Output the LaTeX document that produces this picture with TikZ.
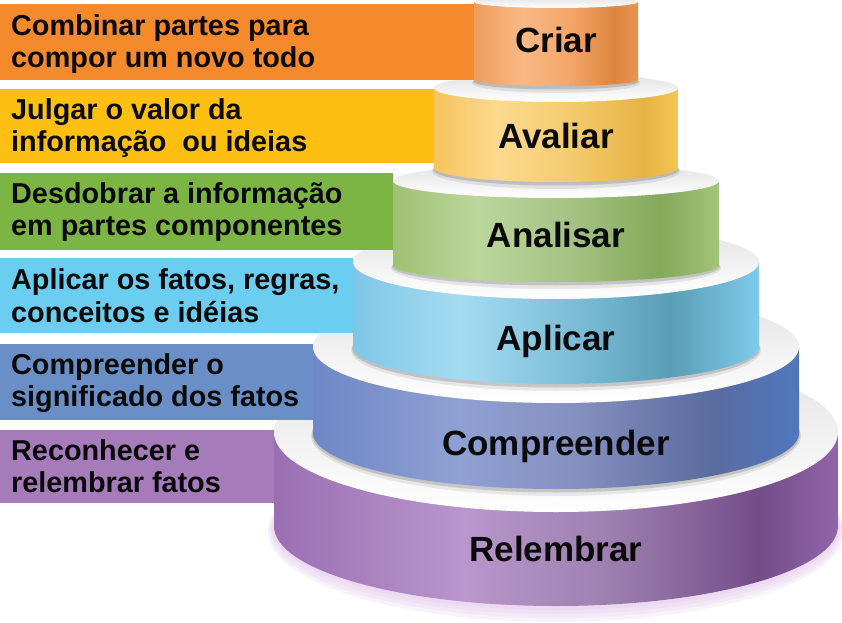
\documentclass[tikz,border=0pt]{standalone}
\usepackage{fontspec}
\setmainfont{Liberation Sans}
\definecolor{txtc}{HTML}{0A0A0A}
\definecolor{faceg}{HTML}{E2E2E2}
\definecolor{glowc}{HTML}{E3C8EA}
\definecolor{rOrange}{HTML}{F48A2B}
\definecolor{rYellow}{HTML}{FCBF12}
\definecolor{rGreen}{HTML}{7CB543}
\definecolor{rLblue}{HTML}{6BCDEF}
\definecolor{rBlue}{HTML}{6A8FC7}
\definecolor{rPurple}{HTML}{A57BBA}
% Criar
\definecolor{cA0}{HTML}{EE9D5B}\definecolor{cA1}{HTML}{FAB985}\definecolor{cA2}{HTML}{F3A468}\definecolor{cA3}{HTML}{DC853F}\definecolor{cA4}{HTML}{E99550}
% Avaliar
\definecolor{cB0}{HTML}{F5C45E}\definecolor{cB1}{HTML}{FCD98E}\definecolor{cB2}{HTML}{F5CC72}\definecolor{cB3}{HTML}{E6B444}\definecolor{cB4}{HTML}{F2C555}
% Analisar
\definecolor{cC0}{HTML}{9EC173}\definecolor{cC1}{HTML}{BBD69C}\definecolor{cC2}{HTML}{A5C384}\definecolor{cC3}{HTML}{84A95A}\definecolor{cC4}{HTML}{A3C47A}
% Aplicar
\definecolor{cD0}{HTML}{7FC6E6}\definecolor{cD1}{HTML}{A5DCF2}\definecolor{cD2}{HTML}{7DBDD8}\definecolor{cD3}{HTML}{5A9DB6}\definecolor{cD4}{HTML}{7ECBEA}
% Compreender
\definecolor{cE0}{HTML}{6F87C6}\definecolor{cE1}{HTML}{8FA0D3}\definecolor{cE2}{HTML}{8590C0}\definecolor{cE3}{HTML}{5A6B9E}\definecolor{cE4}{HTML}{5077BF}
% Relembrar
\definecolor{cF0}{HTML}{9A6FB2}\definecolor{cF1}{HTML}{B996CC}\definecolor{cF2}{HTML}{9D7FAF}\definecolor{cF3}{HTML}{744C88}\definecolor{cF4}{HTML}{9066AA}
\pgfdeclarehorizontalshading{shCri}{100bp}{color(0bp)=(cA0); color(25bp)=(cA0); color(40bp)=(cA1); color(55bp)=(cA2); color(67.5bp)=(cA3); color(75bp)=(cA4); color(100bp)=(cA4)}
\pgfdeclarehorizontalshading{shAva}{100bp}{color(0bp)=(cB0); color(25bp)=(cB0); color(38bp)=(cB1); color(52bp)=(cB2); color(68bp)=(cB3); color(75bp)=(cB4); color(100bp)=(cB4)}
\pgfdeclarehorizontalshading{shAna}{100bp}{color(0bp)=(cC0); color(25bp)=(cC0); color(38bp)=(cC1); color(52bp)=(cC2); color(66bp)=(cC3); color(75bp)=(cC4); color(100bp)=(cC4)}
\pgfdeclarehorizontalshading{shApl}{100bp}{color(0bp)=(cD0); color(25bp)=(cD0); color(38bp)=(cD1); color(52bp)=(cD2); color(64bp)=(cD3); color(75bp)=(cD4); color(100bp)=(cD4)}
\pgfdeclarehorizontalshading{shComp}{100bp}{color(0bp)=(cE0); color(25bp)=(cE0); color(40bp)=(cE1); color(52bp)=(cE2); color(66bp)=(cE3); color(75bp)=(cE4); color(100bp)=(cE4)}
\pgfdeclarehorizontalshading{shRel}{100bp}{color(0bp)=(cF0); color(25bp)=(cF0); color(42bp)=(cF1); color(55bp)=(cF2); color(68bp)=(cF3); color(75bp)=(cF4); color(100bp)=(cF4)}
\newcommand\drawtier[6]{%
  \pgfmathsetmacro\tL{556-#1}%
  \pgfmathsetmacro\tR{556+#1}%
  \pgfmathsetmacro\tT{622-#2}%
  \pgfmathsetmacro\tB{622-#2-#4}%
  \ifnum#6=1
    \fill[shadowA] (556,\tB-3) ellipse [x radius=#1+2, y radius=#3+4];
    \fill[shadowB] (556,\tB-1.5) ellipse [x radius=#1+1, y radius=#3+2];
  \fi
  \shade[shading=#5] (\tL,\tT) -- (\tL,\tB) arc[start angle=180,end angle=360,x radius=#1,y radius=#3] -- (\tR,\tT) -- cycle;
  \shade[face] (556,\tT) ellipse [x radius=#1, y radius=#3];
}
\begin{document}
\begin{tikzpicture}[x=1pt,y=1pt,
  sidetxt/.style={anchor=base west, inner sep=0pt, font=\fontsize{28.8}{33}\selectfont\bfseries, text=txtc},
  tiertxt/.style={anchor=base, inner sep=0pt, font=\fontsize{35}{40}\selectfont\bfseries, text=txtc},
  face/.style={top color=faceg, bottom color=white},
  shadowA/.style={fill=black, opacity=0.08},
  shadowB/.style={fill=black, opacity=0.14},
  glow/.style={fill=glowc, opacity=0.22}]
\useasboundingbox (0,0) rectangle (842,622);
\clip (0,0) rectangle (842,622);
\fill[white] (0,0) rectangle (842,622);
% soft glow under the base
\foreach \k in {4,3,2,1}
  \fill[glow] (556,96-1.5*\k) ellipse [x radius=282+1.5*\k, y radius=80+2.5*\k];
% Relembrar
\drawtier{282}{432}{80}{94}{shRel}{0}
\fill[rPurple] (0,622-430) rectangle (274,622-503);
% Compreender
\drawtier{243}{347}{56}{86}{shComp}{1}
\fill[rBlue] (0,622-344) rectangle (313,622-420);
% Aplicar
\drawtier{203}{262}{37}{85}{shApl}{1}
\fill[rLblue] (0,622-258) rectangle (353,622-333);
% Analisar
\drawtier{163}{181}{17}{84}{shAna}{1}
\fill[rGreen] (0,622-173) rectangle (393,622-250);
% Avaliar
\drawtier{122}{88}{14}{80}{shAva}{1}
\fill[rYellow] (0,622-89) rectangle (434,622-163);
% Criar
\drawtier{82}{2}{6}{78}{shCri}{1}
\fill[rOrange] (0,622-4) rectangle (474,622-80);
% side texts
\node[sidetxt] (l1a) at (11,622-36) {Combinar partes para};
\node[sidetxt] (l1b) at (11,622-68) {compor um novo todo};
\node[sidetxt] (l2a) at (11,622-120) {Julgar o valor da};
\node[sidetxt] (l2b) at (11,622-152) {informação\ \ ou ideias};
\node[sidetxt] (l3a) at (11,622-204) {Desdobrar a informação};
\node[sidetxt] (l3b) at (11,622-236) {em partes componentes};
\node[sidetxt] (l4a) at (11,622-289) {Aplicar os fatos, regras,};
\node[sidetxt] (l4b) at (11,622-322) {conceitos e idéias};
\node[sidetxt] (l5a) at (11,622-374) {Compreender o};
\node[sidetxt] (l5b) at (11,622-406) {significado dos fatos};
\node[sidetxt] (l6a) at (11,622-460) {Reconhecer e};
\node[sidetxt] (l6b) at (11,622-492) {relembrar fatos};
% tier labels
\node[tiertxt] (t1) at (556,622-53) {Criar};
\node[tiertxt] (t2) at (556,622-149) {Avaliar};
\node[tiertxt] (t3) at (556,622-248) {Analisar};
\node[tiertxt] (t4) at (556,622-350) {Aplicar};
\node[tiertxt] (t5) at (556,622-455) {Compreender};
\node[tiertxt] (t6) at (556,622-561) {Relembrar};
\end{tikzpicture}
\end{document}
